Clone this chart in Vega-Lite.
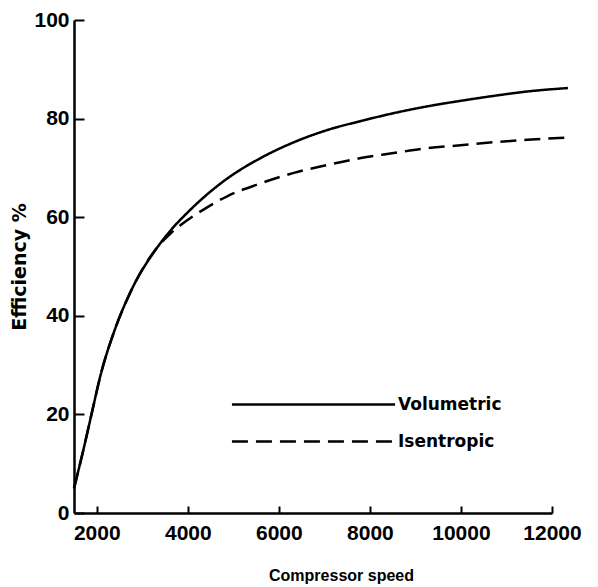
{
  "$schema": "https://vega.github.io/schema/vega-lite/v6.json",
  "width": 478,
  "height": 493,
  "autosize": "none",
  "padding": {"left": 74, "top": 20, "right": 46, "bottom": 74},
  "background": "white",
  "config": {
    "view": {"stroke": null},
    "font": "Liberation Sans"
  },
  "data": {
    "values": [
      {"speed": 1500, "eff": 5.0, "series": "Volumetric"},
      {"speed": 1721, "eff": 13.4, "series": "Volumetric"},
      {"speed": 1884, "eff": 20.0, "series": "Volumetric"},
      {"speed": 2090, "eff": 28.2, "series": "Volumetric"},
      {"speed": 2370, "eff": 36.5, "series": "Volumetric"},
      {"speed": 2750, "eff": 45.0, "series": "Volumetric"},
      {"speed": 3340, "eff": 54.0, "series": "Volumetric"},
      {"speed": 3620, "eff": 57.3, "series": "Volumetric"},
      {"speed": 4000, "eff": 61.0, "series": "Volumetric"},
      {"speed": 4800, "eff": 67.4, "series": "Volumetric"},
      {"speed": 5600, "eff": 72.0, "series": "Volumetric"},
      {"speed": 6330, "eff": 75.2, "series": "Volumetric"},
      {"speed": 7070, "eff": 77.7, "series": "Volumetric"},
      {"speed": 7800, "eff": 79.5, "series": "Volumetric"},
      {"speed": 8520, "eff": 81.1, "series": "Volumetric"},
      {"speed": 9270, "eff": 82.5, "series": "Volumetric"},
      {"speed": 9990, "eff": 83.6, "series": "Volumetric"},
      {"speed": 10715, "eff": 84.6, "series": "Volumetric"},
      {"speed": 11460, "eff": 85.5, "series": "Volumetric"},
      {"speed": 12350, "eff": 86.2, "series": "Volumetric"},
      {"speed": 1500, "eff": 5.0, "series": "Isentropic"},
      {"speed": 1721, "eff": 13.4, "series": "Isentropic"},
      {"speed": 1884, "eff": 20.0, "series": "Isentropic"},
      {"speed": 2090, "eff": 28.2, "series": "Isentropic"},
      {"speed": 2370, "eff": 36.5, "series": "Isentropic"},
      {"speed": 2750, "eff": 45.0, "series": "Isentropic"},
      {"speed": 3340, "eff": 54.0, "series": "Isentropic"},
      {"speed": 3620, "eff": 56.7, "series": "Isentropic"},
      {"speed": 3844, "eff": 58.4, "series": "Isentropic"},
      {"speed": 4390, "eff": 61.8, "series": "Isentropic"},
      {"speed": 4875, "eff": 64.3, "series": "Isentropic"},
      {"speed": 5550, "eff": 66.7, "series": "Isentropic"},
      {"speed": 6330, "eff": 69.0, "series": "Isentropic"},
      {"speed": 7070, "eff": 70.6, "series": "Isentropic"},
      {"speed": 7800, "eff": 72.0, "series": "Isentropic"},
      {"speed": 8520, "eff": 73.0, "series": "Isentropic"},
      {"speed": 9270, "eff": 74.0, "series": "Isentropic"},
      {"speed": 9990, "eff": 74.6, "series": "Isentropic"},
      {"speed": 10715, "eff": 75.2, "series": "Isentropic"},
      {"speed": 11460, "eff": 75.7, "series": "Isentropic"},
      {"speed": 12270, "eff": 76.1, "series": "Isentropic"}
    ]
  },
  "mark": {"type": "line", "color": "black", "strokeWidth": 2.5, "interpolate": "monotone"},
  "encoding": {
    "x": {
      "field": "speed",
      "type": "quantitative",
      "scale": {"domain": [1500, 12000], "nice": false, "zero": false},
      "axis": {
        "values": [2000, 4000, 6000, 8000, 10000, 12000],
        "format": "d",
        "title": "Compressor speed",
        "grid": false,
        "domainColor": "black",
        "domainWidth": 2.5,
        "tickColor": "black",
        "tickWidth": 2,
        "tickSize": -7,
        "labelFont": "Liberation Sans",
        "labelFontWeight": "bold",
        "labelFontSize": 21,
        "labelColor": "black",
        "labelPadding": 16,
        "labelFlush": false,
        "titleFont": "Liberation Sans",
        "titleFontSize": 16,
        "titleFontWeight": "bold",
        "titleColor": "black",
        "titleX": 267,
        "titlePadding": 24
      }
    },
    "y": {
      "field": "eff",
      "type": "quantitative",
      "scale": {"domain": [0, 100], "nice": false},
      "axis": {
        "values": [0, 20, 40, 60, 80, 100],
        "title": "Efficiency %",
        "grid": false,
        "domainColor": "black",
        "domainWidth": 2.5,
        "tickColor": "black",
        "tickWidth": 2,
        "tickSize": -10,
        "labelFont": "Liberation Sans",
        "labelFontWeight": "bold",
        "labelFontSize": 21,
        "labelColor": "black",
        "labelPadding": 15,
        "labelFlush": false,
        "titleFont": "DejaVu Sans",
        "titleFontSize": 19,
        "titleFontWeight": "bold",
        "titleColor": "black",
        "titlePadding": 4
      }
    },
    "strokeDash": {
      "field": "series",
      "type": "nominal",
      "scale": {"domain": ["Volumetric", "Isentropic"], "range": [[1, 0], [16, 8]]},
      "legend": {
        "title": null,
        "orient": "none",
        "legendX": 230,
        "legendY": 375,
        "padding": 0,
        "symbolType": "M-10,0H10",
        "symbolSize": 266,
        "symbolStrokeWidth": 2.5,
        "symbolStrokeColor": "black",
        "labelFont": "DejaVu Sans",
        "labelFontSize": 17,
        "labelFontWeight": "bold",
        "labelColor": "black",
        "labelOffset": 75,
        "rowPadding": 19
      }
    }
  }
}
